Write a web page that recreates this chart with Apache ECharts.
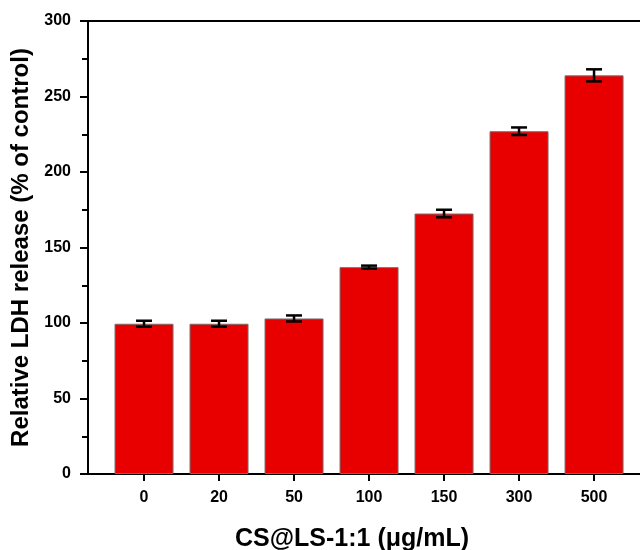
<!DOCTYPE html>
<html>
<head>
<meta charset="utf-8">
<script src="https://cdn.jsdelivr.net/npm/echarts@6/dist/echarts.min.js"></script>
<style>html,body{margin:0;padding:0;background:#fff;}#c{width:640px;height:550px;}</style>
</head>
<body>
<div id="c"></div>
<script>
var categories = ['0', '20', '50', '100', '150', '300', '500'];
var values = [99.5, 99.5, 103, 137, 172.5, 227, 264];
var errors = [2, 2, 2, 1, 2.5, 2.5, 4];
var yTicks = [0, 50, 100, 150, 200, 250, 300];

var chart = echarts.init(document.getElementById('c'));
var idx = categories.map(function (c, i) { return i; });
var barData = values.map(function (v, i) { return [i, v]; });
var errData = values.map(function (v, i) { return [i, v - errors[i], v + errors[i]]; });
var font = 'Liberation Sans, Arial, sans-serif';

chart.setOption({
  animation: false,
  backgroundColor: '#fff',
  grid: { left: 88, top: 21, width: 556, height: 453, outerBoundsMode: 'none', containLabel: false,
    show: true, borderColor: '#000', borderWidth: 2, backgroundColor: 'transparent' },
  xAxis: {
    type: 'value', min: -0.747, max: 6.666,
    name: 'CS@LS-1:1 (μg/mL)', nameLocation: 'middle', nameGap: 53,
    nameTextStyle: { fontFamily: font, fontWeight: 'bold', fontSize: 25, color: '#000', verticalAlign: 'top', padding: [0, 28, 0, 0] },
    axisLine: { show: true, onZero: false, lineStyle: { color: '#000', width: 2 } },
    axisTick: { show: true, inside: false, length: 7, lineStyle: { color: '#000', width: 2 }, customValues: idx },
    axisLabel: { customValues: idx, margin: 16, fontFamily: font, fontWeight: 'bold', fontSize: 16, color: '#000',
      formatter: function (v) { return categories[Math.round(v)]; } },
    splitLine: { show: false }
  },
  yAxis: {
    type: 'value', min: 0, max: 300, interval: 50,
    name: 'Relative LDH release (% of control)', nameLocation: 'middle', nameGap: 54,
    nameTextStyle: { fontFamily: font, fontWeight: 'bold', fontSize: 24, color: '#000' },
    axisLine: { show: true, onZero: false, lineStyle: { color: '#000', width: 2 } },
    axisTick: { show: true, inside: false, length: 8, lineStyle: { color: '#000', width: 2 } },
    minorTick: { show: true, splitNumber: 2, length: 6, lineStyle: { color: '#000', width: 2 } },
    axisLabel: { margin: 17, fontFamily: font, fontWeight: 'bold', fontSize: 16, color: '#000',
      formatter: function (v) { return yTicks.indexOf(v) >= 0 ? String(v) : ''; } },
    splitLine: { show: false }
  },
  series: [
    {
      type: 'bar', data: barData, barWidth: 59,
      itemStyle: { color: '#E80000', borderColor: '#7a6a6a', borderWidth: 1 }
    },
    {
      type: 'custom', data: errData, z: 5,
      renderItem: function (params, api) {
        var x = api.value(0);
        var lo = api.coord([x, api.value(1)]);
        var hi = api.coord([x, api.value(2)]);
        var hw = 8;
        var st = { stroke: '#000', lineWidth: 2.5 };
        return { type: 'group', children: [
          { type: 'line', shape: { x1: lo[0], y1: lo[1], x2: hi[0], y2: hi[1] }, style: st },
          { type: 'line', shape: { x1: lo[0] - hw, y1: lo[1], x2: lo[0] + hw, y2: lo[1] }, style: st },
          { type: 'line', shape: { x1: hi[0] - hw, y1: hi[1], x2: hi[0] + hw, y2: hi[1] }, style: st }
        ]};
      }
    }
  ]
});
</script>
</body>
</html>
